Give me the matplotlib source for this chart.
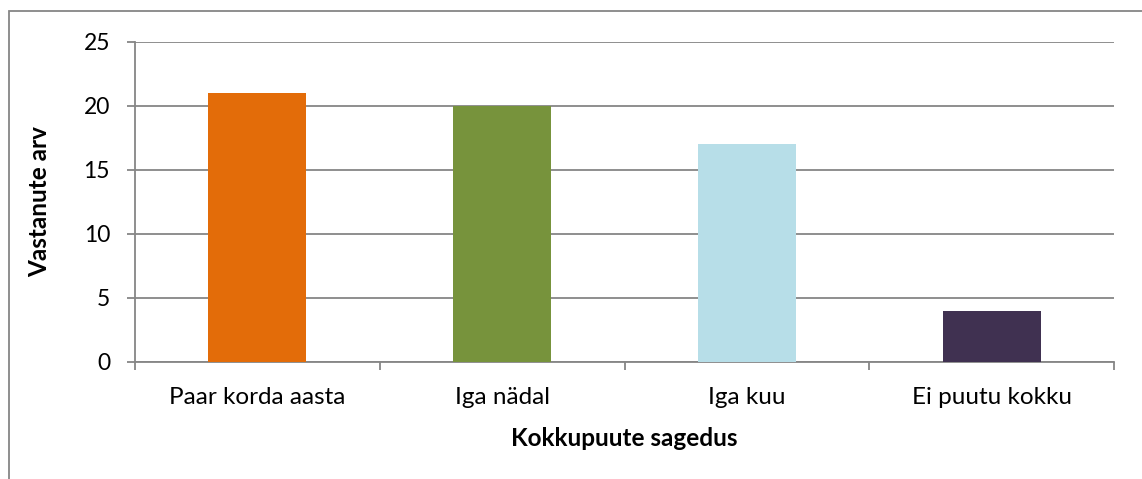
import matplotlib

matplotlib.use("Agg")
import matplotlib.pyplot as plt
from matplotlib.patches import Rectangle

# data
categories = ["Paar korda aasta", "Iga nädal", "Iga kuu", "Ei puutu kokku"]
counts = [21, 20, 17, 4]
colors = ["#E36C09", "#77933C", "#B7DEE8", "#403151"]
y_ticks = [0, 5, 10, 15, 20, 25]

GRAY = "#868686"
W, H = 1142, 479

plt.rcParams["font.family"] = ["Lato", "DejaVu Sans"]

fig = plt.figure(figsize=(W / 100, H / 100), dpi=100)
ax = fig.add_axes([135 / W, 1 - 362 / H, (1114 - 135) / W, (362 - 42) / H])

x = range(len(categories))
ax.bar(x, counts, width=0.4, color=colors, zorder=3)

ax.set_xlim(-0.5, len(categories) - 0.5)
ax.set_ylim(0, 25)
ax.set_yticks(y_ticks)
ax.yaxis.grid(True, color=GRAY, lw=1.3, zorder=0)
ax.set_axisbelow(True)

# category labels between boundary ticks
ax.set_xticks([i - 0.5 for i in range(len(categories) + 1)])
ax.set_xticklabels([])
ax.set_xticks(list(x), minor=True)
ax.set_xticklabels(categories, minor=True)
ax.tick_params(axis="x", which="major", length=6, width=1.3, color=GRAY, direction="out")
ax.tick_params(axis="x", which="minor", length=0, pad=18, labelsize=17.5)
ax.tick_params(axis="y", length=6, width=1.3, color=GRAY, direction="out",
               labelsize=16.5, pad=12)

for side in ("top", "right"):
    ax.spines[side].set_visible(False)
for side in ("left", "bottom"):
    ax.spines[side].set_color(GRAY)
    ax.spines[side].set_linewidth(1.3)

ax.set_xlabel("Kokkupuute sagedus", fontsize=17.5, fontweight="bold", va="center")
ax.set_ylabel("Vastanute arv", fontsize=17.5, fontweight="bold", va="center")
ax.xaxis.set_label_coords(0.5, (362 - 438) / 320)
ax.yaxis.set_label_coords((40 - 135) / 979, 0.5)

# outer chart-area border
fig.patches.append(Rectangle((9 / W, -0.1), 1.2, 1 - 11 / H + 0.1,
                             transform=fig.transFigure, fill=False,
                             edgecolor=GRAY, lw=1.3))

fig.savefig("out.png", dpi=100)
